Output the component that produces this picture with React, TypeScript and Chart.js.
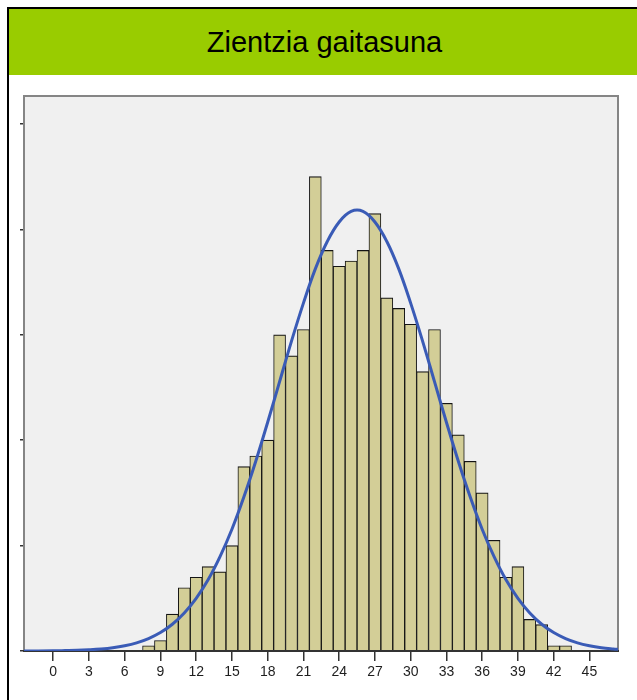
import { useEffect, useRef } from 'react';
import { Chart, registerables } from 'chart.js';

Chart.register(...registerables);

const TITLE = 'Zientzia gaitasuna';

// Histogram bins (centre of each 1-point bin) and their frequencies
const binCenters = [8, 9, 10, 11, 12, 13, 14, 15, 16, 17, 18, 19, 20, 21, 22, 23, 24, 25, 26, 27, 28, 29, 30, 31, 32, 33, 34, 35, 36, 37, 38, 39, 40, 41, 42, 43];
const binCounts = [1, 2, 7, 12, 14, 16, 15, 20, 35, 37, 40, 60, 56, 61, 90, 76, 73, 74, 76, 83, 67, 65, 62, 53, 61, 47, 41, 36, 30, 21, 14, 16, 6, 5, 1, 1];

// Normal curve
const curveX = [-2.5, 0, 1, 2, 3, 4, 5, 6, 7, 8, 9, 10, 11, 12, 13, 14, 15, 16, 17, 18, 19, 20, 21, 22, 23, 24, 25, 26, 27, 28, 29, 30, 31, 32, 33, 34, 35, 36, 37, 38, 39, 40, 41, 42, 43, 44, 45, 46, 47, 47.5];
const curveY = [0.01, 0.04, 0.08, 0.13, 0.23, 0.38, 0.62, 1.0, 1.55, 2.36, 3.5, 5.08, 7.21, 9.99, 13.5, 17.9, 23.1, 29.2, 36.0, 43.4, 51.1, 58.8, 66.0, 72.5, 77.7, 81.4, 83.4, 83.4, 81.4, 77.7, 72.5, 66.0, 58.8, 51.1, 43.4, 36.0, 29.2, 23.1, 17.9, 13.5, 9.99, 7.21, 5.08, 3.5, 2.36, 1.55, 1.0, 0.62, 0.38, 0.3];

const xTicks = [0, 3, 6, 9, 12, 15, 18, 21, 24, 27, 30, 33, 36, 39, 42, 45];
const yTicks = [0, 20, 40, 60, 80, 100];

const X_MIN = -2.45;
const X_MAX = 47.4;
const Y_MAX = 105.3;

const FONT = 'Liberation Sans, Arial, Helvetica, sans-serif';

export default function App() {
  const ref = useRef<HTMLCanvasElement>(null);

  useEffect(() => {
    if (!ref.current) return;
    const framePlugin = {
      id: 'frame',
      beforeDraw(chart: any) {
        const { ctx, chartArea: a } = chart;
        ctx.save();
        ctx.fillStyle = '#f0f0f0';
        ctx.fillRect(a.left, a.top, a.right - a.left, a.bottom - a.top);
        ctx.restore();
      },
      afterDatasetDraw(chart: any, args: any) {
        if (args.index !== 0) return;
        const { ctx, chartArea: a } = chart;
        ctx.save();
        ctx.strokeStyle = '#858585';
        ctx.lineWidth = 2;
        ctx.beginPath();
        ctx.moveTo(a.left, a.bottom);
        ctx.lineTo(a.left, a.top);
        ctx.lineTo(a.right, a.top);
        ctx.lineTo(a.right, a.bottom);
        ctx.stroke();
        ctx.strokeStyle = '#333333';
        ctx.beginPath();
        ctx.moveTo(a.left - 1, a.bottom);
        ctx.lineTo(a.right + 1, a.bottom);
        ctx.stroke();
        ctx.restore();
      },
    };

    const chart = new Chart(ref.current, {
      type: 'bar',
      data: {
        datasets: [
          {
            type: 'bar',
            data: binCenters.map((x, i) => ({ x, y: binCounts[i] })),
            backgroundColor: '#d3ce97',
            borderColor: '#141414',
            borderWidth: { top: 1.2, left: 1, right: 1, bottom: 0 },
            borderSkipped: false,
            categoryPercentage: 1,
            barPercentage: 1,
            order: 2,
          } as any,
          {
            type: 'line',
            data: curveX.map((x, i) => ({ x, y: curveY[i] })),
            borderColor: '#3a5bb6',
            borderWidth: 3,
            pointRadius: 0,
            tension: 0.4,
            fill: false,
            order: 1,
          } as any,
        ],
      },
      options: {
        animation: false,
        responsive: false,
        maintainAspectRatio: false,
        layout: { padding: { top: 21, right: 19, left: 0, bottom: 0 } },
        plugins: {
          legend: { display: false },
          tooltip: { enabled: false },
          title: { display: false },
        },
        scales: {
          x: {
            type: 'linear',
            min: X_MIN,
            max: X_MAX,
            offset: false,
            afterBuildTicks: (scale: any) => {
              scale.ticks = xTicks.map((v) => ({ value: v }));
            },
            afterFit: (scale: any) => {
              scale.height = 49;
            },
            grid: {
              offset: false,
              drawOnChartArea: false,
              drawTicks: true,
              tickLength: 10,
              color: '#333333',
              lineWidth: 1.5,
            },
            border: { display: false },
            ticks: {
              color: '#1e1e1e',
              padding: 3,
              maxRotation: 0,
              autoSkip: false,
              font: { family: FONT, size: 14 },
              callback: (v: any) => String(v),
            },
          },
          y: {
            type: 'linear',
            min: 0,
            max: Y_MAX,
            afterBuildTicks: (scale: any) => {
              scale.ticks = yTicks.map((v) => ({ value: v }));
            },
            afterFit: (scale: any) => {
              scale.width = 15;
            },
            grid: {
              drawOnChartArea: false,
              drawTicks: true,
              tickLength: 4,
              color: '#333333',
              lineWidth: 1.5,
            },
            border: { display: false },
            ticks: { display: false },
          },
        },
      } as any,
      plugins: [framePlugin],
    });
    return () => chart.destroy();
  }, []);

  return (
    <>
      <style>{'html,body{margin:0;padding:0;overflow:hidden;}'}</style>
      <div style={{ position: 'relative', width: 637, height: 700, background: '#ffffff', overflow: 'hidden' }}>
        <div
          style={{
            position: 'absolute',
            left: 7,
            top: 7,
            width: 630,
            height: 693,
            borderLeft: '2px solid #000',
            borderTop: '2px solid #000',
            boxSizing: 'border-box',
            background: '#ffffff',
          }}
        >
          <div
            style={{
              height: 66,
              width: 628,
              background: '#99cc00',
              display: 'flex',
              alignItems: 'center',
              justifyContent: 'center',
              fontFamily: FONT,
              fontSize: 29,
              color: '#000',
              paddingLeft: 3,
              boxSizing: 'border-box',
            }}
          >
            {TITLE}
          </div>
          <canvas ref={ref} width={628} height={625} style={{ display: 'block' }} />
        </div>
      </div>
    </>
  );
}
